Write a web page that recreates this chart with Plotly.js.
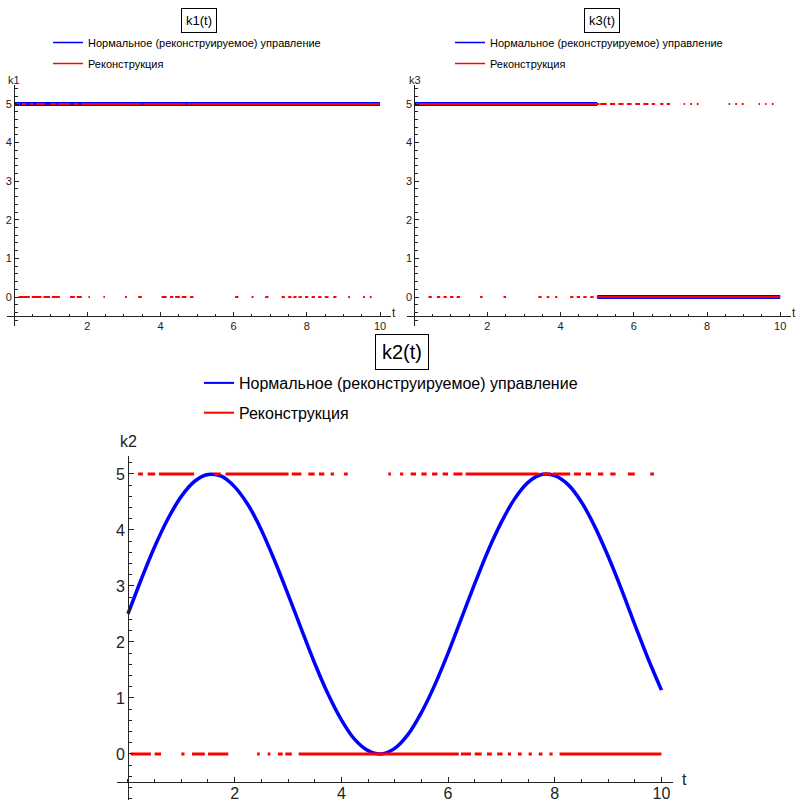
<!DOCTYPE html>
<html>
<head>
<meta charset="utf-8">
<script src="https://cdn.plot.ly/plotly-3.0.1.min.js"></script>
<style>html,body{margin:0;padding:0;background:#fff;}#chart{width:800px;height:803px;}</style>
</head>
<body>
<div id="chart"></div>
<script>
// ---------- data ----------
const legendNames = ["Нормальное (реконструируемое) управление", "Реконструкция"];
const titles = ["k1(t)", "k3(t)", "k2(t)"];
const xTicks = [2, 4, 6, 8, 10];
const yTicks = [0, 1, 2, 3, 4, 5];

// k1: normal control
const k1NormalT = [0, 10];
const k1NormalV = [5, 5];
// k1: reconstruction intervals at level 5 and level 0
const k1RecHigh = [[0.07,0.16],[0.21,0.34],[0.42,0.53],[0.60,0.84],[0.98,1.16],[1.21,1.55],[1.62,1.77],[1.83,3.50],[3.53,4.70],[4.73,10]];
const k1RecLow = [[0.12,0.43],[0.48,0.75],[0.80,0.98],[1.03,1.25],[1.53,1.66],[1.71,1.85],[2.03,2.07],[2.44,2.48],[3.03,3.08],[3.39,3.49],[4.03,4.17],[4.26,4.35],[4.40,4.53],[4.58,4.71],[4.81,4.90],[6.04,6.13],[6.49,6.54],[6.86,6.95],[7.31,7.40],[7.49,7.58],[7.63,7.72],[7.77,7.86],[7.95,8.04],[8.13,8.22],[8.31,8.40],[8.49,8.59],[8.72,8.81],[9.13,9.18],[9.54,9.59],[9.72,9.77]];

// k3: normal control
const k3NormalT = [0, 5, null, 5, 10];
const k3NormalV = [5, 5, null, 0, 0];
const k3RecHigh = [[0.05,5.06],[5.08,5.26],[5.35,5.49],[5.58,5.72],[5.81,5.94],[6.04,6.17],[6.26,6.40],[6.49,6.58],[6.72,6.81],[6.90,6.99],[7.36,7.40],[7.54,7.59],[7.72,7.77],[8.59,8.63],[8.77,8.82],[8.95,9.00],[9.41,9.45],[9.59,9.63],[9.77,9.82]];
const k3RecLow = [[0.39,0.48],[0.62,0.71],[0.80,0.89],[0.98,1.07],[1.16,1.25],[1.80,1.87],[2.44,2.51],[3.39,3.48],[3.62,3.69],[3.85,3.91],[4.26,4.35],[4.44,4.53],[4.62,4.71],[4.81,4.90],[4.99,10]];

// k2: normal control (smooth curve)
const k2NormalT = [0,0.25,0.5,0.75,1,1.25,1.5,1.75,2,2.25,2.5,2.75,3,3.25,3.5,3.75,4,4.25,4.5,4.75,5,5.25,5.5,5.75,6,6.25,6.5,6.75,7,7.25,7.5,7.75,8,8.25,8.5,8.75,9,9.25,9.5,9.75,10];
const k2NormalV = [2.5,3.12,3.70,4.20,4.60,4.87,4.99,4.96,4.77,4.45,4.00,3.45,2.85,2.23,1.62,1.07,0.61,0.26,0.06,0.00,0.10,0.35,0.74,1.23,1.80,2.42,3.04,3.63,4.14,4.56,4.85,4.99,4.97,4.81,4.50,4.06,3.53,2.94,2.31,1.70,1.14];
const k2RecHigh = [[0.19,0.28],[0.37,0.51],[0.58,1.24],[1.62,1.74],[1.83,3.01],[3.07,3.25],[3.38,3.50],[3.58,3.68],[3.80,3.86],[4.05,4.12],[4.88,4.93],[5.10,5.16],[5.30,5.40],[5.50,5.60],[5.70,5.80],[5.90,6.00],[6.10,6.27],[6.33,7.70],[7.77,7.93],[7.96,8.29],[8.36,8.49],[8.58,8.68],[8.81,8.91],[9.04,9.14],[9.37,9.50],[9.79,9.86]];
const k2RecLow = [[0.05,0.43],[0.50,0.62],[1.00,1.06],[1.20,1.44],[1.50,1.88],[2.42,2.47],[2.62,2.67],[2.81,2.90],[2.95,3.07],[3.20,6.20],[6.24,6.43],[6.50,6.63],[6.73,6.82],[6.92,7.02],[7.12,7.18],[7.31,7.38],[7.51,7.57],[7.70,7.77],[7.90,7.96],[8.09,10.0]];

// ---------- helpers ----------
function segTrace(high, low) {
  const x = [], y = [];
  high.forEach(([a, b]) => { x.push(a, b, null); y.push(5, 5, null); });
  low.forEach(([a, b]) => { x.push(a, b, null); y.push(0, 0, null); });
  return { x, y };
}
const W = 800, H = 803;
const px = v => v / W;
const py = v => 1 - v / H;
const FONT = "Liberation Sans, Arial, sans-serif";
const BLUE = "#0000ff", RED = "#ff0000", AX = "#222";

const r1 = segTrace(k1RecHigh, k1RecLow);
const r3 = segTrace(k3RecHigh, k3RecLow);
const r2 = segTrace(k2RecHigh, k2RecLow);

const traces = [
  // k1
  {x: k1NormalT, y: k1NormalV, xaxis: "x", yaxis: "y", mode: "lines", line: {color: BLUE, width: 4}, showlegend: false, hoverinfo: "skip"},
  {x: r1.x, y: r1.y, xaxis: "x", yaxis: "y", mode: "lines", line: {color: RED, width: 2}, showlegend: false, hoverinfo: "skip"},
  {x: [null], y: [null], xaxis: "x", yaxis: "y", mode: "lines", name: legendNames[0], line: {color: BLUE, width: 1.5}, legend: "legend", legendgroup: "a1"},
  {x: [null], y: [null], xaxis: "x", yaxis: "y", mode: "lines", name: legendNames[1], line: {color: RED, width: 1.5}, legend: "legend", legendgroup: "b1"},
  // k3
  {x: k3NormalT, y: k3NormalV, xaxis: "x2", yaxis: "y2", mode: "lines", line: {color: BLUE, width: 4}, showlegend: false, hoverinfo: "skip"},
  {x: r3.x, y: r3.y, xaxis: "x2", yaxis: "y2", mode: "lines", line: {color: RED, width: 2}, showlegend: false, hoverinfo: "skip"},
  {x: [null], y: [null], xaxis: "x2", yaxis: "y2", mode: "lines", name: legendNames[0], line: {color: BLUE, width: 1.5}, legend: "legend2", legendgroup: "a2"},
  {x: [null], y: [null], xaxis: "x2", yaxis: "y2", mode: "lines", name: legendNames[1], line: {color: RED, width: 1.5}, legend: "legend2", legendgroup: "b2"},
  // k2
  {x: k2NormalT, y: k2NormalV, xaxis: "x3", yaxis: "y3", mode: "lines", line: {color: BLUE, width: 3.5, shape: "spline", smoothing: 1}, showlegend: false, hoverinfo: "skip"},
  {x: r2.x, y: r2.y, xaxis: "x3", yaxis: "y3", mode: "lines", line: {color: RED, width: 3}, showlegend: false, hoverinfo: "skip"},
  {x: [null], y: [null], xaxis: "x3", yaxis: "y3", mode: "lines", name: legendNames[0], line: {color: BLUE, width: 2}, legend: "legend3", legendgroup: "a3"},
  {x: [null], y: [null], xaxis: "x3", yaxis: "y3", mode: "lines", name: legendNames[1], line: {color: RED, width: 2}, legend: "legend3", legendgroup: "b3"}
];

function xAxis(dom, range, pos, fs, tl, ml, so) {
  return {
    domain: dom, range: range, anchor: "free", position: pos,
    showline: true, linecolor: AX, linewidth: 1, zeroline: false, showgrid: false,
    tickmode: "array", tickvals: xTicks, ticks: "inside", ticklen: tl, tickcolor: AX,
    ticklabelstandoff: so,
    tickfont: {family: FONT, size: fs, color: AX},
    minor: {dtick: 0.5, tick0: 0, ticks: "inside", ticklen: ml, tickcolor: AX, showgrid: false},
    fixedrange: true
  };
}
function yAxis(dom, range, pos, fs, tl, ml) {
  return {
    domain: dom, range: range, anchor: "free", position: pos,
    showline: true, linecolor: AX, linewidth: 1, zeroline: false, showgrid: false,
    tickmode: "array", tickvals: yTicks, ticks: "inside", ticklen: tl, tickcolor: AX,
    tickfont: {family: FONT, size: fs, color: AX},
    minor: {dtick: 0.2, tick0: 0, ticks: "inside", ticklen: ml, tickcolor: AX, showgrid: false},
    fixedrange: true
  };
}
function ann(text, x, y, size, extra) {
  return Object.assign({text: text, x: px(x), y: py(y), xref: "paper", yref: "paper",
    xanchor: "center", yanchor: "middle", showarrow: false,
    font: {family: FONT, size: size, color: AX}}, extra || {});
}

const topYDom = [py(326), py(84.7)];
const layout = {
  width: W, height: H,
  margin: {l: 0, r: 0, t: 0, b: 0},
  paper_bgcolor: "#fff", plot_bgcolor: "rgba(0,0,0,0)",
  font: {family: FONT, color: "#000"},
  showlegend: true,
  xaxis: xAxis([px(6.8), px(391)], [-0.2, 10.3], py(316.3), 11, 4, 2.5, -1),
  yaxis: yAxis(topYDom, [-0.75, 5.5], px(14.1), 11, 4, 2.5),
  xaxis2: xAxis([px(406.9), px(791.2)], [-0.2, 10.3], py(316.3), 11, 4, 2.5, -1),
  yaxis2: yAxis(topYDom, [-0.75, 5.5], px(414.2), 11, 4, 2.5),
  xaxis3: xAxis([px(117.3), px(673.2)], [-0.2, 10.22], py(782), 16, 5, 3, -3),
  yaxis3: yAxis([py(799.9), py(455.5)], [-0.82, 5.33], px(128), 16, 5, 3),
  legend: {x: px(48), y: py(28), xanchor: "left", yanchor: "top", font: {family: FONT, size: 11, color: "#000"}, bgcolor: "rgba(0,0,0,0)", traceorder: "grouped", tracegroupgap: 2},
  legend2: {x: px(450), y: py(28), xanchor: "left", yanchor: "top", font: {family: FONT, size: 11, color: "#000"}, bgcolor: "rgba(0,0,0,0)", traceorder: "grouped", tracegroupgap: 2},
  legend3: {x: px(199), y: py(366), xanchor: "left", yanchor: "top", font: {family: FONT, size: 16, color: "#000"}, bgcolor: "rgba(0,0,0,0)", traceorder: "grouped", tracegroupgap: 6},
  annotations: [
    ann(titles[0], 199, 20.5, 13, {bordercolor: "#000", borderwidth: 1, borderpad: 4, bgcolor: "#fff", font: {family: FONT, size: 13, color: "#000"}}),
    ann(titles[1], 601.5, 20.5, 13, {bordercolor: "#000", borderwidth: 1, borderpad: 4, bgcolor: "#fff", font: {family: FONT, size: 13, color: "#000"}}),
    ann(titles[2], 402, 352, 20, {bordercolor: "#000", borderwidth: 1, borderpad: 6, bgcolor: "#fff", font: {family: FONT, size: 20, color: "#000"}}),
    ann("k1", 14, 80, 11),
    ann("k3", 415, 80, 11),
    ann("k2", 128, 441, 16),
    ann("t", 394, 313, 12),
    ann("t", 794, 313, 12),
    ann("t", 684, 779, 16)
  ]
};

Plotly.newPlot("chart", traces, layout, {staticPlot: true, displayModeBar: false});
</script>
</body>
</html>
